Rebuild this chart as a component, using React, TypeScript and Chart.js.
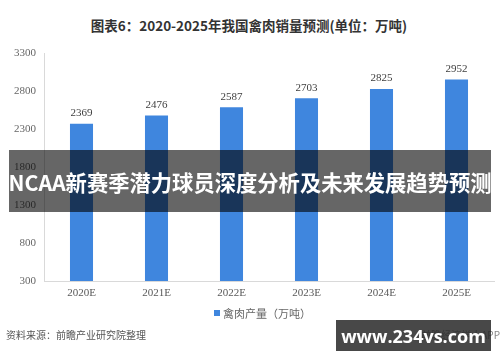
import React, { useEffect, useRef } from "react";
import { Chart, registerables } from "chart.js";

Chart.register(...registerables);

const categories = ["2020E", "2021E", "2022E", "2023E", "2024E", "2025E"];
const values = [2369, 2476, 2587, 2703, 2825, 2952];
const seriesName = "禽肉产量（万吨）";
const titleText = "图表6：2020-2025年我国禽肉销量预测(单位：万吨)";
const sourceText = "资料来源：前瞻产业研究院整理";
const bannerText = "NCAA新赛季潜力球员深度分析及未来发展趋势预测";
const siteText = "www.234vs.com";
const appText = "前瞻经济学人APP";
const yMin = 300;
const yMax = 3300;
const yStep = 500;

const BAR = "#3f86de";
const SERIF = "'Liberation Serif', 'DejaVu Serif', serif";
const CJK = "'Noto Sans CJK SC', 'Noto Sans', sans-serif";

const valueLabels = {
  id: "valueLabels",
  afterDatasetsDraw(chart: any) {
    const ctx = chart.ctx;
    const meta = chart.getDatasetMeta(0);
    ctx.save();
    ctx.font = "11px " + SERIF;
    ctx.fillStyle = "#404040";
    ctx.textAlign = "center";
    ctx.textBaseline = "bottom";
    meta.data.forEach((bar: any, i: number) => {
      ctx.fillText(String(chart.data.datasets[0].data[i]), bar.x, bar.y - 5);
    });
    ctx.restore();
  },
};

export default function App() {
  const ref = useRef<HTMLCanvasElement>(null);

  useEffect(() => {
    if (!ref.current) return;
    const chart = new Chart(ref.current, {
      type: "bar",
      data: {
        labels: categories,
        datasets: [
          {
            label: seriesName,
            data: values,
            backgroundColor: BAR,
            barPercentage: 0.384,
            categoryPercentage: 0.8,
          },
        ],
      },
      options: {
        responsive: false,
        animation: false,
        layout: { padding: { left: 0, right: 6, top: 53, bottom: 56 } },
        plugins: {
          legend: { display: false },
          title: { display: false },
          tooltip: { enabled: false },
        },
        scales: {
          x: {
            grid: { display: true, drawOnChartArea: false, drawTicks: false },
            border: { display: true, color: "#d9d9d9", width: 1 },
            ticks: {
              color: "#595959",
              font: { family: SERIF, size: 11 },
              padding: 6,
              maxRotation: 0,
            },
            afterFit: (s: any) => {
              s.height = 25;
            },
          },
          y: {
            min: yMin,
            max: yMax,
            grid: { display: true, drawOnChartArea: false, drawTicks: false },
            border: { display: true, color: "#d9d9d9", width: 1 },
            ticks: {
              stepSize: yStep,
              color: "#666666",
              font: { family: SERIF, size: 11 },
              padding: 8,
              callback: (v: any) => String(v),
            },
            afterFit: (s: any) => {
              s.width = 44;
            },
          },
        },
      },
      plugins: [valueLabels],
    });
    return () => chart.destroy();
  }, []);

  return (
    <div
      style={{
        position: "fixed",
        left: 0,
        top: 0,
        width: 500,
        height: 362,
        background: "#ffffff",
        overflow: "hidden",
      }}
    >
      <div
        style={{
          position: "absolute",
          left: 0,
          top: 16,
          width: 498,
          textAlign: "center",
          fontFamily: CJK,
          fontWeight: 700,
          fontSize: 13.5,
          lineHeight: "18px",
          color: "#333333",
        }}
      >
        {titleText}
      </div>
      <canvas
        ref={ref}
        width={500}
        height={362}
        style={{ position: "absolute", left: 0, top: 0 }}
      />
      <div
        style={{
          position: "absolute",
          left: 214,
          top: 305,
          display: "flex",
          alignItems: "center",
          fontFamily: CJK,
          fontSize: 11,
          color: "#666666",
          lineHeight: "16px",
        }}
      >
        <span
          style={{
            display: "inline-block",
            width: 6,
            height: 6,
            background: BAR,
            marginRight: 3,
          }}
        />
        {seriesName}
      </div>
      <div
        style={{
          position: "absolute",
          left: 6,
          top: 327,
          fontFamily: CJK,
          fontSize: 10,
          color: "#555555",
          lineHeight: "16px",
        }}
      >
        {sourceText}
      </div>
      <div
        style={{
          position: "absolute",
          right: 0,
          top: 327,
          fontFamily: CJK,
          fontSize: 10,
          color: "#888888",
          lineHeight: "16px",
          whiteSpace: "nowrap",
        }}
      >
        {appText}
      </div>
      <div
        style={{
          position: "absolute",
          left: 9,
          top: 150,
          width: 482,
          height: 62,
          background: "rgba(0,0,0,0.6)",
          display: "flex",
          alignItems: "center",
          justifyContent: "center",
          fontFamily: CJK,
          fontWeight: 700,
          fontSize: 21.3,
          color: "#ffffff",
          whiteSpace: "nowrap",
        }}
      >
        {bannerText}
      </div>
      <div
        style={{
          position: "absolute",
          left: 336,
          top: 320,
          width: 155,
          height: 31,
          background: "rgba(40,40,40,0.85)",
          display: "flex",
          alignItems: "center",
          justifyContent: "center",
          fontFamily: "'Open Sans', 'Liberation Sans', sans-serif",
          fontWeight: 700,
          fontSize: 18,
          color: "#ffffff",
          whiteSpace: "nowrap",
        }}
      >
        {siteText}
      </div>
    </div>
  );
}
